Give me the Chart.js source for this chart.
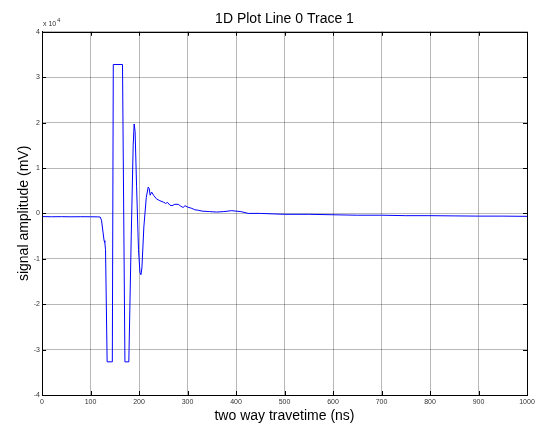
<!DOCTYPE html>
<html>
<head>
<meta charset="utf-8">
<script src="https://cdn.jsdelivr.net/npm/chart.js@4"></script>
<style>
  html, body { margin: 0; padding: 0; background: #fff; }
  #wrap { width: 536px; height: 425px; }
</style>
</head>
<body>
<div id="wrap"><canvas id="myChart" width="536" height="425"></canvas></div>
<script>
// two way travetime (ns)
let times = [0, 20, 40, 60, 80, 100, 115, 120, 122.7, 126, 128, 129.5, 131, 134.3, 145, 147, 166, 171, 179,
  184, 188, 190, 192, 195, 199, 202, 204, 206, 210, 215, 219, 221, 223, 226, 230, 236, 243, 250, 255,
  259, 264, 268, 274, 281, 286, 291, 295, 300, 309, 315, 322, 330, 345, 360, 375, 391, 400, 410, 425,
  450, 500, 550, 600, 650, 700, 750, 800, 850, 900, 950, 1000];

// signal amplitude (mV)
let amplitude = [-700, -740, -720, -750, -730, -740, -760, -800, -1500, -4300, -6000, -6400, -8000, -32700, -32700, 32800, 32800, -32700, -32700,
  -5000, 15000, 19700, 18000, 6000, -8000, -13000, -13500, -12000, -3000, 3500, 5800, 5500, 4000, 4700, 4000, 3200, 2800, 2500, 2200,
  2400, 1800, 1700, 2000, 2000, 1600, 1300, 1700, 1400, 1100, 800, 700, 500, 400, 300, 400, 600, 500, 400, 0,
  0, -200, -200, -300, -400, -400, -500, -500, -550, -600, -600, -650];

let xTicks = [0, 100, 200, 300, 400, 500, 600, 700, 800, 900, 1000];
let yTicks = [-4, -3, -2, -1, 0, 1, 2, 3, 4];   // x 10^4
let yScaleExp = 4;

let points = times.map((t, i) => ({ x: t, y: amplitude[i] }));

// box, inward tick marks and the "x 10^4" multiplier, like matlab axes
let axesBox = {
    id: 'axesBox',
    afterDraw(chart) {
        let ctx = chart.ctx;
        let a = chart.chartArea;
        let xs = chart.scales.x, ys = chart.scales.y;
        ctx.save();
        ctx.strokeStyle = '#000';
        ctx.lineWidth = 1;
        ctx.beginPath();
        xTicks.forEach(v => {
            let px = Math.round(xs.getPixelForValue(v)) + 0.5;
            ctx.moveTo(px, a.top); ctx.lineTo(px, a.top + 4);
            ctx.moveTo(px, a.bottom); ctx.lineTo(px, a.bottom - 4);
        });
        yTicks.forEach(v => {
            let py = Math.round(ys.getPixelForValue(v * 1e4)) + 0.5;
            ctx.moveTo(a.left, py); ctx.lineTo(a.left + 4, py);
            ctx.moveTo(a.right, py); ctx.lineTo(a.right - 4, py);
        });
        ctx.stroke();
        ctx.strokeRect(Math.round(a.left) + 0.5, Math.round(a.top) + 0.5,
            Math.round(a.right - a.left), Math.round(a.bottom - a.top));
        ctx.fillStyle = '#333';
        ctx.font = '7px "Liberation Sans", Arial, sans-serif';
        ctx.textBaseline = 'middle';
        ctx.textAlign = 'left';
        ctx.fillText('x 10', a.left + 1, a.top - 8);
        ctx.font = '6px "Liberation Sans", Arial, sans-serif';
        ctx.fillText(String(yScaleExp), a.left + 15, a.top - 11);
        ctx.restore();
    }
};

let myChart = document.getElementById('myChart').getContext('2d');

let tracePlot = new Chart(myChart, {
    type: 'scatter',
    data: {
        datasets: [{
            label: 'Trace 1',
            data: points,
            showLine: true,
            borderColor: '#0000ff',
            borderWidth: 1,
            pointRadius: 0,
            tension: 0
        }]
    },
    options: {
        responsive: false,
        animation: false,
        layout: { padding: { left: 0, right: 9, top: 0, bottom: 0 } },
        plugins: {
            legend: { display: false },
            tooltip: { enabled: false },
            title: {
                display: true,
                text: '1D Plot Line 0 Trace 1',
                fullSize: false,
                color: '#000',
                font: { family: '"Liberation Sans", Arial, sans-serif', size: 14, weight: 'normal' },
                padding: { top: 11, bottom: 4 }
            }
        },
        scales: {
            x: {
                type: 'linear',
                min: 0,
                max: 1000,
                afterFit(scale) {
                    scale.height = 30;
                    scale.paddingLeft = 0;
                    scale.paddingRight = 0;
                },
                afterBuildTicks(scale) { scale.ticks = xTicks.map(v => ({ value: v })); },
                ticks: {
                    autoSkip: false,
                    maxRotation: 0,
                    padding: 3,
                    color: '#333',
                    font: { family: '"Liberation Sans", Arial, sans-serif', size: 7 },
                    callback: v => String(v)
                },
                grid: { color: 'rgba(0,0,0,0.28)', drawTicks: false },
                border: { color: '#000' },
                title: {
                    display: true,
                    text: 'two way travetime (ns)',
                    color: '#000',
                    font: { family: '"Liberation Sans", Arial, sans-serif', size: 14 },
                    padding: { top: 0, bottom: 0 }
                }
            },
            y: {
                min: -40000,
                max: 40000,
                afterFit(scale) { scale.width = 42; },
                afterBuildTicks(scale) { scale.ticks = yTicks.map(v => ({ value: v * 1e4 })); },
                ticks: {
                    padding: 2,
                    color: '#333',
                    font: { family: '"Liberation Sans", Arial, sans-serif', size: 7 },
                    callback: v => String(Math.round(v / 1e4))
                },
                grid: { color: 'rgba(0,0,0,0.28)', drawTicks: false },
                border: { color: '#000' },
                title: {
                    display: true,
                    text: 'signal amplitude (mV)',
                    color: '#000',
                    font: { family: '"Liberation Sans", Arial, sans-serif', size: 14 },
                    padding: { top: 16, bottom: 0 }
                }
            }
        }
    },
    plugins: [axesBox]
});
</script>
</body>
</html>
